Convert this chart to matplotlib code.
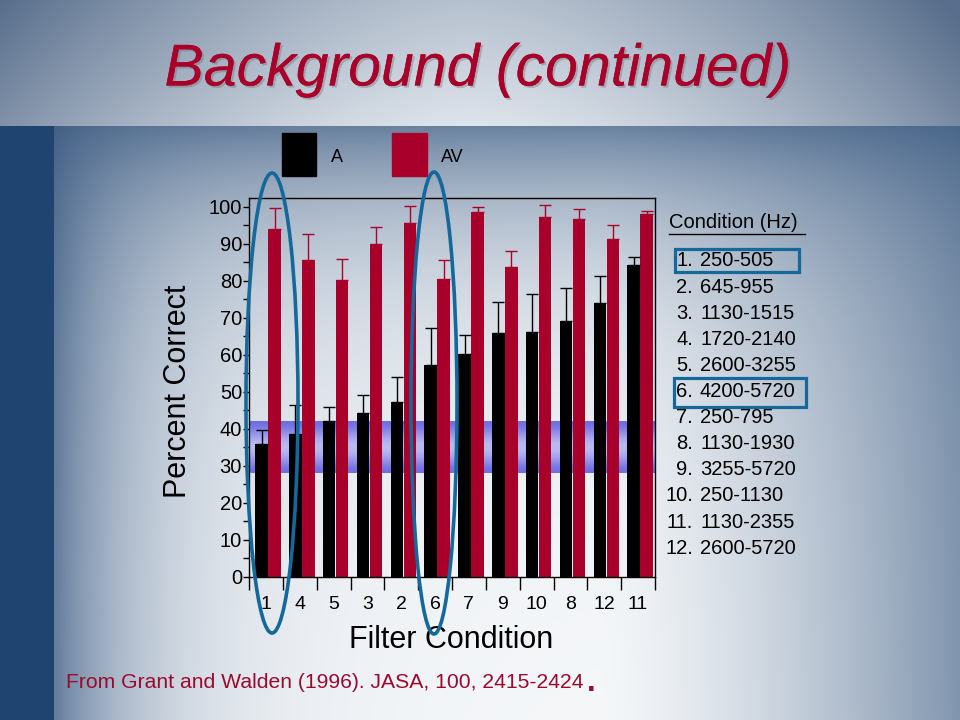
import numpy as np
import matplotlib
matplotlib.use("Agg")
import matplotlib.pyplot as plt
import matplotlib.patheffects as pe
from matplotlib.patches import Ellipse, Rectangle

plt.rcParams['font.family'] = ['Liberation Sans', 'DejaVu Sans']

# filter conditions in plotted order
order = ['1', '4', '5', '3', '2', '6', '7', '9', '10', '8', '12', '11']

# percent correct, auditory only (A) and auditory-visual (AV), with upper error
a_mean = [36.0, 38.6, 42.0, 44.2, 47.2, 57.2, 60.2, 65.9, 66.1, 69.1, 74.0, 84.2]
a_err = [3.6, 7.7, 4.0, 4.8, 6.8, 10.0, 5.0, 8.2, 10.2, 8.8, 7.2, 2.1]
av_mean = [94.0, 85.6, 80.2, 89.9, 95.6, 80.5, 98.6, 83.7, 97.3, 96.7, 91.3, 98.0]
av_err = [5.5, 7.0, 5.6, 4.5, 4.6, 5.0, 1.3, 4.2, 3.1, 2.6, 3.7, 0.7]

# shaded band of A scores
band_lo, band_hi = 28, 42

cond_num = ['1.', '2.', '3.', '4.', '5.', '6.', '7.', '8.', '9.', '10.', '11.', '12.']
cond_hz = ['250-505', '645-955', '1130-1515', '1720-2140', '2600-3255', '4200-5720',
           '250-795', '1130-1930', '3255-5720', '250-1130', '1130-2355', '2600-5720']

RED = '#a8002a'
BLUE_LINE = '#14689a'

W, H = 960, 720
fig = plt.figure(figsize=(9.6, 7.2), dpi=100)

# ---- slide background (pixel coordinates) ----
bg = fig.add_axes([0, 0, 1, 1], zorder=0)
yy, xx = np.mgrid[0:H, 0:W].astype(float)
light = np.array([246, 248, 250]) / 255
blue = np.array([52, 84, 124]) / 255
# body
t_top = np.exp(-(yy - 126) / 120.0)
t_left = np.exp(-np.clip(xx - 54, 0, None) / 95.0)
t_right = np.clip((xx - 600) / 360.0, 0, 1) ** 1.4
d = 1 - (1 - 0.72 * t_top) * (1 - 0.75 * t_left) * (1 - 0.6 * t_right)
body = light * (1 - d[..., None]) + blue * d[..., None]
# header
hlight = np.array([222, 228, 235]) / 255
hdark = np.array([88, 110, 140]) / 255
hx = np.abs(xx - 470) / 490.0
hd = np.clip(0.75 * hx ** 1.6 + 0.3 * (1 - yy / 126.0), 0, 1)
head = hlight * (1 - hd[..., None]) + hdark * hd[..., None]
img = np.where((yy < 126)[..., None], head, body)
img[126:, :54] = np.array([31, 68, 112]) / 255
bg.imshow(img, extent=[0, W, H, 0], aspect='auto', interpolation='bilinear')
bg.set_xlim(0, W)
bg.set_ylim(H, 0)
bg.axis('off')

bg.text(478, 70, 'Background (continued)', fontsize=42.5, style='italic', color=RED,
        ha='center', va='center',
        path_effects=[pe.withSimplePatchShadow(offset=(1.5, -1.5), shadow_rgbFace='#666666', alpha=0.35),
                      pe.Normal()])

# legend
bg.add_patch(Rectangle((282, 133), 34, 43, color='black'))
bg.text(331, 158, 'A', fontsize=13, ha='left', va='center')
bg.add_patch(Rectangle((392, 133), 35, 43, color=RED))
bg.text(441, 158, 'AV', fontsize=13, ha='left', va='center')

# condition list
bg.text(669, 223, 'Condition (Hz)', fontsize=14.5, ha='left', va='center')
bg.plot([669, 805], [233.5, 233.5], color='black', lw=1)
for i in range(len(cond_num)):
    y = 261 + i * 26.1
    bg.text(693, y, cond_num[i], fontsize=14.5, ha='right', va='center')
    bg.text(700, y, cond_hz[i], fontsize=14.5, ha='left', va='center')

bg.text(66, 682, 'From Grant and Walden (1996). JASA, 100, 2415-2424', fontsize=15.2,
        color='#9a0a2e', ha='left', va='center')
bg.text(587, 683, '.', fontsize=22, fontweight='bold', color='#9a0a2e', ha='left', va='center')

bg.text(178, 391, 'Percent Correct', fontsize=22, rotation=90, ha='center', va='center')
bg.text(451, 640, 'Filter Condition', fontsize=22, ha='center', va='center')

# ---- bar chart ----
ax = fig.add_axes([249 / W, 1 - 577 / H, 406 / W, 379 / H], zorder=1)
ax.patch.set_alpha(0)
idx = np.arange(len(order))
xa = idx + 0.37
xv = idx + 0.755

band = np.array([0.0, 0.25, 0.6, 0.85, 1.0, 0.85, 0.6, 0.25, 0.0])[:, None]
band_cols = np.array([110, 110, 225]) / 255 * (1 - band[..., None]) + np.array([190, 190, 242]) / 255 * band[..., None]
ax.imshow(band_cols, extent=[0, 12, band_lo, band_hi], aspect='auto', interpolation='bicubic', zorder=0)

ax.bar(xa, a_mean, width=0.37, color='black', zorder=2)
ax.bar(xv, av_mean, width=0.37, color=RED, zorder=2)
ax.errorbar(xa, a_mean, yerr=[np.zeros(12), a_err], fmt='none', ecolor='black',
            elinewidth=1, capsize=4.5, capthick=1, zorder=3)
ax.errorbar(xv, av_mean, yerr=[np.zeros(12), av_err], fmt='none', ecolor=RED,
            elinewidth=1, capsize=4.5, capthick=1, zorder=3)

ax.set_xlim(0, 12)
ax.set_ylim(0, 102.3)
ax.set_yticks(np.arange(0, 101, 10))
ax.set_yticks(np.arange(5, 100, 10), minor=True)
ax.tick_params(axis='y', which='both', direction='out', length=4, width=1, labelsize=14.5, pad=1)
ax.set_xticks(idx + 0.5)
ax.set_xticklabels(order)
ax.set_xticks(np.arange(13), minor=True)
ax.tick_params(axis='x', which='major', length=0, labelsize=14, pad=14)
ax.tick_params(axis='x', which='minor', direction='out', length=9, width=1)
for s in ax.spines.values():
    s.set_linewidth(1)

# ---- overlay highlights ----
ov = fig.add_axes([0, 0, 1, 1], zorder=2)
ov.patch.set_alpha(0)
ov.set_xlim(0, W)
ov.set_ylim(H, 0)
ov.axis('off')
ov.add_patch(Ellipse((272, 403), 52, 460, fill=False, ec=BLUE_LINE, lw=2.6))
ov.add_patch(Ellipse((434, 403), 46, 462, fill=False, ec=BLUE_LINE, lw=2.6))
ov.add_patch(Rectangle((674.5, 249), 124, 22.5, fill=False, ec=BLUE_LINE, lw=2.3))
ov.add_patch(Rectangle((674, 377.5), 132, 29, fill=False, ec=BLUE_LINE, lw=2.3))

fig.savefig('out.png', dpi=100)
